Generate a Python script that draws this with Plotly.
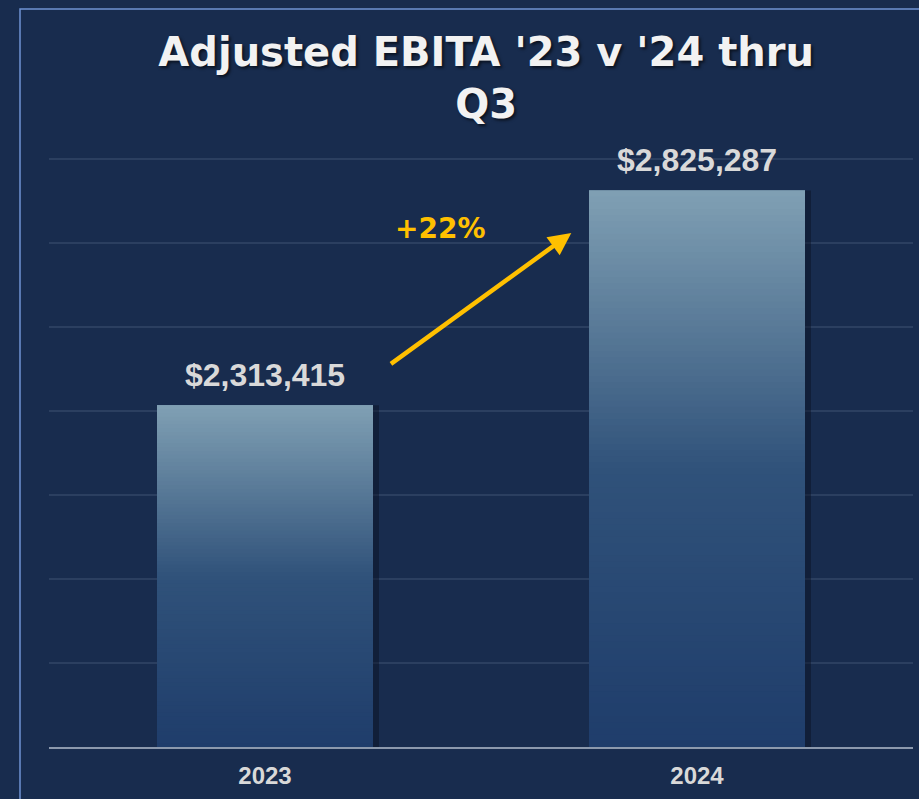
import plotly.graph_objects as go

# ---- data ----
years = ["2023", "2024"]
ebita = [2313415, 2825287]
axis_min = 1500000
axis_max = 2950000
grid_step = 200000
growth_label = "+22%"
title_text = "Adjusted EBITA '23 v '24 thru<br>Q3"

BG = "#182c4e"
TOP = (128, 160, 180)
MID = (48, 82, 122)
BOT = (31, 61, 107)


def grad(t):
    # t = 0 at top, 1 at bottom
    if t < 0.5:
        a, b, u = TOP, MID, t / 0.5
    else:
        a, b, u = MID, BOT, (t - 0.5) / 0.5
    c = [round(a[i] + (b[i] - a[i]) * u) for i in range(3)]
    return f"rgb({c[0]},{c[1]},{c[2]})"


fig = go.Figure()

# subtle shadow behind bars
fig.add_trace(go.Bar(
    x=years, y=[v - axis_min for v in ebita], base=[axis_min] * len(ebita),
    width=0.5, offset=-0.25 + 6 / 432,
    marker=dict(color="rgba(8,16,34,0.45)", line=dict(width=0)),
    hoverinfo="skip", showlegend=False,
))

# gradient bars built from overlapping stacked slices of each value
N = 90
for k in range(N):
    bases = [axis_min + (v - axis_min) * k / N for v in ebita]
    heights = [min(3 * (v - axis_min) / N, v - b) for v, b in zip(ebita, bases)]
    col = grad(1 - (k + 0.5) / N)
    fig.add_trace(go.Bar(
        x=years, y=heights, base=bases, width=0.5,
        marker=dict(color=col, line=dict(width=0)),
        hoverinfo="skip", showlegend=False,
    ))

# value labels (positioned by category index)
for i, v in enumerate(ebita):
    fig.add_annotation(
        x=i, y=v, xref="x", yref="y", yanchor="bottom", yshift=10,
        showarrow=False, text=f"<b>${v:,.0f}</b>",
        font=dict(family="Liberation Sans", size=32, color="#d9d9d9"),
    )

fig.add_annotation(
    x=0.709, y=2723700, ax=0.288, ay=2409500,
    xref="x", yref="y", axref="x", ayref="y",
    showarrow=True, arrowhead=2, arrowsize=1, arrowwidth=4.5,
    arrowcolor="#ffc000", text="",
)
fig.add_annotation(
    x=0.404, y=2735600, xref="x", yref="y", showarrow=False,
    text=f"<b>{growth_label}</b>",
    font=dict(family="DejaVu Sans", size=28, color="#ffc000"),
)

fig.add_shape(
    type="rect", xref="paper", yref="paper",
    x0=(20 - 49) / 864, x1=1.2, y0=-0.3, y1=(747 - 9) / 609,
    line=dict(color="#6f93d4", width=1.5), fillcolor="rgba(0,0,0,0)", layer="below",
)

fig.update_layout(
    width=919, height=799,
    margin=dict(l=49, r=6, t=138, b=52),
    paper_bgcolor=BG, plot_bgcolor=BG,
    barmode="overlay", bargap=0.5,
    showlegend=False,
    title=dict(
        text=title_text, xref="container", yref="container",
        x=0.529, xanchor="center", y=1 - 66 / 799, yanchor="top",
        font=dict(family="DejaVu Sans", size=40, color="#f2f2f2", weight="bold",
                  shadow="2px 2px 3px rgba(0,0,0,0.6)"),
    ),
    xaxis=dict(
        type="category", showgrid=False, showline=True, linecolor="#8c99ad", linewidth=2,
        ticks="", ticklabelstandoff=6,
        tickfont=dict(family="Liberation Sans", size=24, color="#d9d9d9", weight="bold"),
        range=[-0.5, 1.5], fixedrange=True,
    ),
    yaxis=dict(
        range=[axis_min, axis_max], tick0=axis_min, dtick=grid_step,
        showgrid=True, gridcolor="#2b3f60", gridwidth=1.5,
        showticklabels=False, zeroline=False, showline=False, ticks="",
        fixedrange=True,
    ),
)

fig.write_html(
    "out.html",
    config={"displayModeBar": False},
    post_script="document.body.style.margin='0';document.body.style.background='" + BG + "';",
)
